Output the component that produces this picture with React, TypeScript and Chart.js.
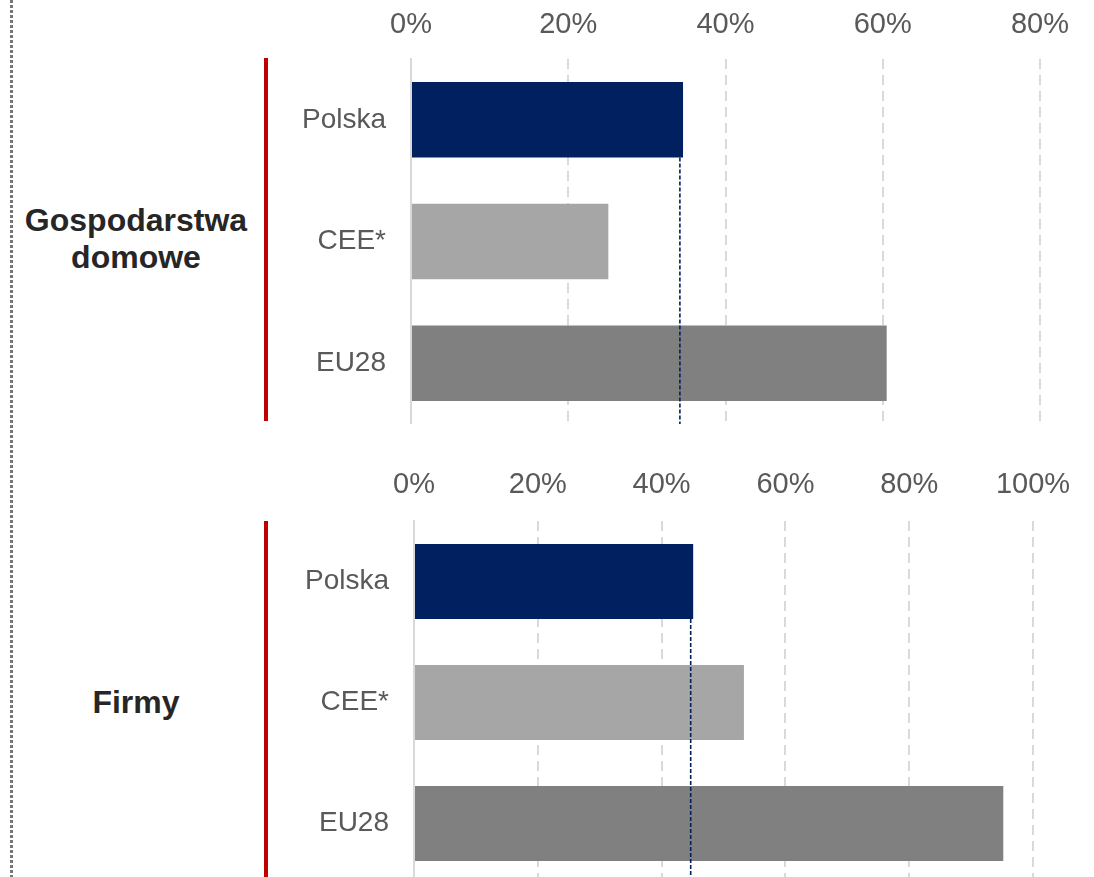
import React, { useEffect, useRef } from "react";
import { Chart, registerables } from "chart.js";

Chart.register(...registerables);

// ---- data ----
const categories = ["Polska", "CEE*", "EU28"];
const householdValues = [34.6, 25.1, 60.5];
const firmValues = [45.1, 53.3, 95.2];
const householdRefValue = [34.2];
const firmRefValue = [44.7];
const householdAxisMax = [80];
const firmAxisMax = [100];
const tickStep = [20];
const barColors = ["#002060", "#a6a6a6", "#808080"];
const householdLabel = ["Gospodarstwa", "domowe"];
const firmLabel = ["Firmy"];

const FONT = '"Liberation Sans", Arial, Helvetica, sans-serif';

const refLinePlugin = {
  id: "refLine",
  afterDatasetsDraw(chart: any, _args: any, opts: any) {
    const v = opts.value;
    if (v == null) return;
    const x = chart.scales.x.getPixelForValue(v);
    const meta = chart.getDatasetMeta(0);
    const bar = meta.data[0];
    const p = bar.getProps(["y", "height"], true);
    const top = p.y + p.height / 2;
    const bottom = chart.chartArea.bottom + (opts.extend || 0);
    const ctx = chart.ctx;
    ctx.save();
    ctx.strokeStyle = "#002060";
    ctx.lineWidth = 1.6;
    ctx.setLineDash([4, 2]);
    ctx.beginPath();
    ctx.moveTo(x, top);
    ctx.lineTo(x, bottom);
    ctx.stroke();
    ctx.restore();
  },
};

type PanelProps = {
  values: number[];
  refValue: number;
  max: number;
  width: number;
  height: number;
  axisHeight: number;
  yWidth: number;
  rightPad: number;
  labelPad: number;
  extend: number;
  left: number;
  top: number;
};

function BarPanel(props: PanelProps) {
  const ref = useRef<HTMLCanvasElement>(null);
  useEffect(() => {
    const chart = new Chart(ref.current as HTMLCanvasElement, {
      type: "bar",
      data: {
        labels: categories,
        datasets: [
          {
            data: props.values,
            backgroundColor: barColors,
            categoryPercentage: 1,
            barPercentage: 0.62,
          },
        ],
      },
      options: {
        indexAxis: "y",
        animation: false,
        responsive: false,
        maintainAspectRatio: false,
        devicePixelRatio: 1,
        layout: { padding: { left: 0, right: props.rightPad, top: 0, bottom: 0 } },
        plugins: {
          legend: { display: false },
          tooltip: { enabled: false },
          refLine: { value: props.refValue, extend: props.extend },
        } as any,
        scales: {
          x: {
            type: "linear",
            position: "top",
            min: 0,
            max: props.max,
            ticks: {
              stepSize: tickStep[0],
              callback: (v: any) => v + "%",
              color: "#595959",
              font: { family: FONT, size: 29 },
              padding: props.labelPad,
              maxRotation: 0,
            },
            grid: { color: "#d9d9d9", lineWidth: 2, drawTicks: false, tickLength: 0 },
            border: { display: false, dash: [10, 6] },
            afterFit: (s: any) => {
              s.height = props.axisHeight;
            },
          },
          y: {
            ticks: {
              color: "#595959",
              font: { family: FONT, size: 28 },
              padding: 25,
            },
            grid: { display: false, drawTicks: false },
            border: { display: true, color: "#d9d9d9", width: 2 },
            afterFit: (s: any) => {
              s.width = props.yWidth;
              s.paddingTop = 0;
              s.paddingBottom = 0;
            },
          },
        },
      } as any,
      plugins: [refLinePlugin],
    });
    return () => chart.destroy();
  }, []);
  return (
    <canvas
      ref={ref}
      width={props.width}
      height={props.height}
      style={{
        position: "absolute",
        left: props.left,
        top: props.top,
        width: props.width,
        height: props.height,
      }}
    />
  );
}

function GroupLabel({ lines, top, height }: { lines: string[]; top: number; height: number }) {
  return (
    <div
      style={{
        position: "absolute",
        left: 11,
        width: 250,
        top,
        height,
        display: "flex",
        alignItems: "center",
        justifyContent: "center",
        textAlign: "center",
        fontFamily: FONT,
        fontWeight: "bold",
        fontSize: 32,
        lineHeight: "37px",
        color: "#262626",
      }}
    >
      <div>
        {lines.map((l, i) => (
          <div key={i}>{l}</div>
        ))}
      </div>
    </div>
  );
}

export default function App() {
  return (
    <div
      style={{
        position: "absolute",
        left: 0,
        top: 0,
        width: 1094,
        height: 877,
        overflow: "hidden",
        background: "#ffffff",
      }}
    >
      {/* dotted separator */}
      <div
        style={{
          position: "absolute",
          left: 10,
          top: 0,
          width: 3,
          height: 877,
          background: "repeating-linear-gradient(to bottom, #767676 0px, #767676 3px, transparent 3px, transparent 5px)",
        }}
      />
      {/* red group bars */}
      <div style={{ position: "absolute", left: 264, top: 58, width: 4, height: 363, background: "#c00000" }} />
      <div style={{ position: "absolute", left: 264, top: 521, width: 4, height: 356, background: "#c00000" }} />

      <GroupLabel lines={householdLabel} top={57} height={364} />
      <GroupLabel lines={firmLabel} top={521} height={363} />

      <BarPanel
        values={householdValues}
        refValue={householdRefValue[0]}
        max={householdAxisMax[0]}
        left={270}
        top={0}
        width={824}
        height={424}
        axisHeight={59}
        yWidth={141}
        rightPad={54}
        labelPad={17}
        extend={2}
      />
      <BarPanel
        values={firmValues}
        refValue={firmRefValue[0]}
        max={firmAxisMax[0]}
        left={270}
        top={460}
        width={824}
        height={424}
        axisHeight={61}
        yWidth={144}
        rightPad={61}
        labelPad={19}
        extend={0}
      />
    </div>
  );
}
